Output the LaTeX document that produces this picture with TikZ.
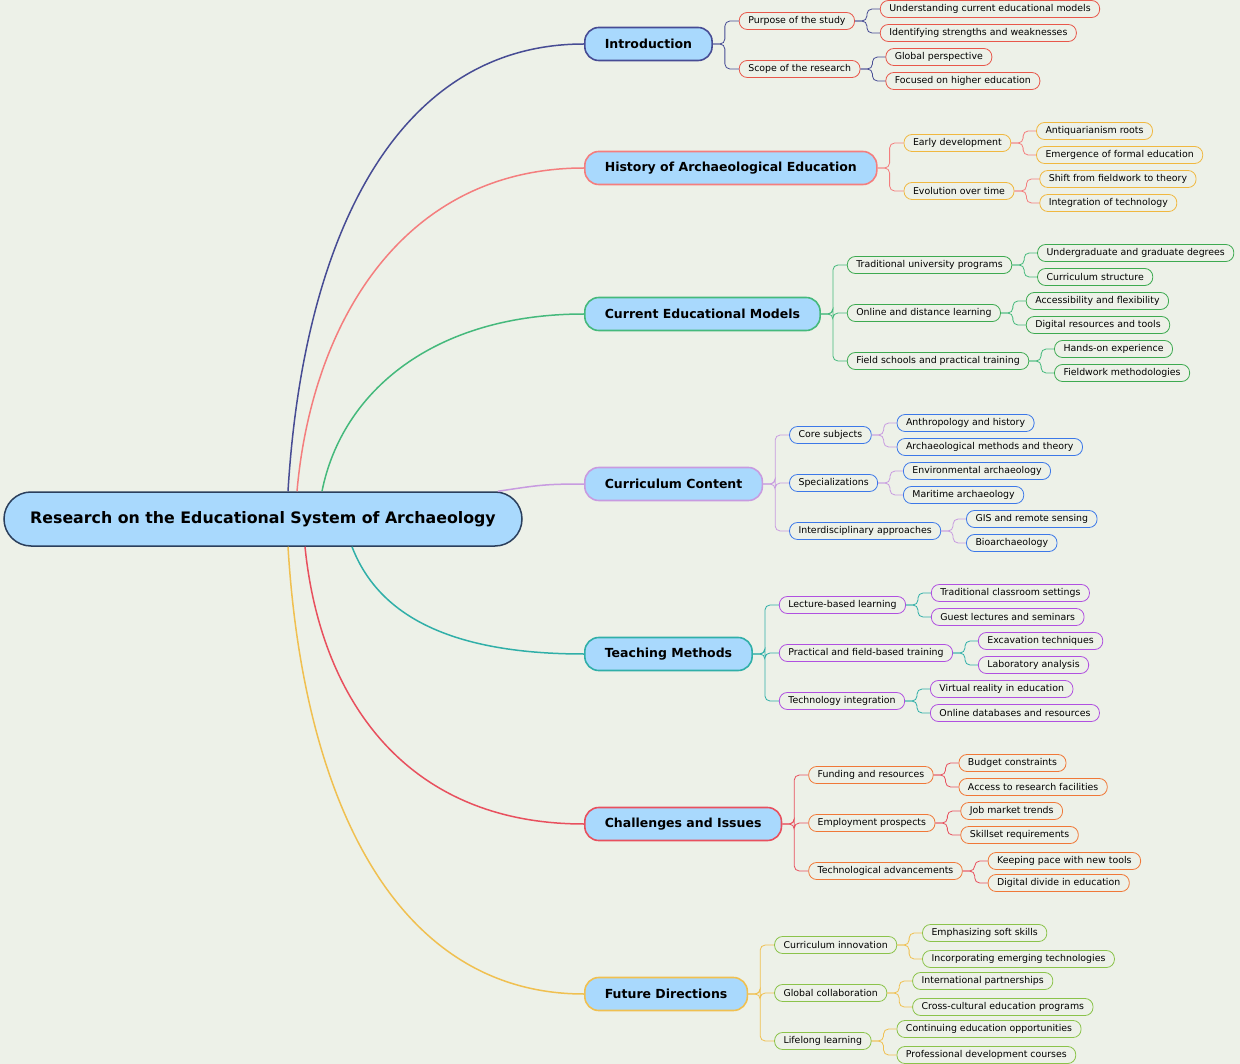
\documentclass[tikz,border=0pt]{standalone}
\usepackage{fontspec}
\setmainfont{DejaVu Sans}
\definecolor{bg}{HTML}{EDF1E8}
\definecolor{nodefill}{HTML}{A9D9FD}
\definecolor{rootb}{HTML}{2B3F5C}
\definecolor{cA}{HTML}{474C94}\definecolor{dA}{HTML}{E8574A}
\definecolor{cB}{HTML}{F47E7E}\definecolor{dB}{HTML}{F0B840}
\definecolor{cC}{HTML}{45B97C}\definecolor{dC}{HTML}{3DAA50}
\definecolor{cD}{HTML}{C89BE0}\definecolor{dD}{HTML}{3C78E8}
\definecolor{cE}{HTML}{30AFA8}\definecolor{dE}{HTML}{B050E0}
\definecolor{cF}{HTML}{E8505E}\definecolor{dF}{HTML}{F07838}
\definecolor{cG}{HTML}{F0C050}\definecolor{dG}{HTML}{8BC34A}
\tikzset{
 root/.style={draw=rootb,fill=nodefill,line width=1.5pt,rounded corners=27pt,minimum width=518pt,minimum height=54pt,font=\fontsize{15.8}{18}\selectfont\bfseries},
 lone/.style={draw=lc,fill=nodefill,line width=1.6pt,rounded corners=14pt,minimum height=33pt,inner xsep=20pt,anchor=west,font=\fontsize{12.5}{14}\selectfont\bfseries},
 ltwo/.style={draw=cc,line width=0.8pt,rounded corners=8pt,minimum height=17pt,inner ysep=0pt,inner xsep=9pt,anchor=west,font=\fontsize{9.4}{11}\selectfont},
 curve/.style={draw=lc,line width=1.5pt},
 conn/.style={draw=lc,line width=0.8pt,rounded corners=5pt},
}
\newcommand\Ltwo[4]{\node[ltwo,xshift=26pt] (#1) at (#2.east |- 0,#3) {#4};
 \draw[conn] (#2.east) -- ++(12pt,0) |- (#1.west);}
\newcommand\Lthree[4]{\node[ltwo,xshift=25pt] (#1) at (#2.east |- 0,#3) {#4};
 \draw[conn] (#2.east) -- ++(12pt,0) |- (#1.west);}
\begin{document}
\begin{tikzpicture}[x=1pt,y=-1pt]
\fill[bg] (0,0) rectangle (1240,1064);
\useasboundingbox (0,0) rectangle (1240,1064);
\node[root] (root) at (263,519) {Research on the Educational System of Archaeology};
% Intro
\begin{scope}\colorlet{lc}{cA}\colorlet{cc}{dA}
\node[lone] (A) at (584,44) {Introduction};
\draw[curve] (root.north -| 288,0) .. controls +(15,-250) and +(-190,0) .. (A.west);
\Ltwo{A1}{A}{21}{Purpose of the study}
\Lthree{A11}{A1}{9}{Understanding current educational models}
\Lthree{A12}{A1}{33}{Identifying strengths and weaknesses}
\Ltwo{A2}{A}{69}{Scope of the research}
\Lthree{A21}{A2}{57}{Global perspective}
\Lthree{A22}{A2}{81}{Focused on higher education}
\end{scope}
% History
\begin{scope}\colorlet{lc}{cB}\colorlet{cc}{dB}
\node[lone] (B) at (584,168) {History of Archaeological Education};
\draw[curve] (root.north -| 297,0) .. controls +(15,-170) and +(-180,0) .. (B.west);
\Ltwo{B1}{B}{143}{Early development}
\Lthree{B11}{B1}{131}{Antiquarianism roots}
\Lthree{B12}{B1}{155}{Emergence of formal education}
\Ltwo{B2}{B}{191}{Evolution over time}
\Lthree{B21}{B2}{179}{Shift from fieldwork to theory}
\Lthree{B22}{B2}{203}{Integration of technology}
\end{scope}
% Current
\begin{scope}\colorlet{lc}{cC}\colorlet{cc}{dC}
\node[lone] (C) at (584,314) {Current Educational Models};
\draw[curve] (root.north -| 322,0) .. controls +(20,-100) and +(-150,0) .. (C.west);
\Ltwo{C1}{C}{265}{Traditional university programs}
\Lthree{C11}{C1}{253}{Undergraduate and graduate degrees}
\Lthree{C12}{C1}{277}{Curriculum structure}
\Ltwo{C2}{C}{313}{Online and distance learning}
\Lthree{C21}{C2}{301}{Accessibility and flexibility}
\Lthree{C22}{C2}{325}{Digital resources and tools}
\Ltwo{C3}{C}{361}{Field schools and practical training}
\Lthree{C31}{C3}{349}{Hands-on experience}
\Lthree{C32}{C3}{373}{Fieldwork methodologies}
\end{scope}
% Curriculum
\begin{scope}\colorlet{lc}{cD}\colorlet{cc}{dD}
\node[lone] (D) at (584,484) {Curriculum Content};
\draw[curve] (root.north -| 498,0) .. controls +(40,-6) and +(-40,0) .. (D.west);
\Ltwo{D1}{D}{435}{Core subjects}
\Lthree{D11}{D1}{423}{Anthropology and history}
\Lthree{D12}{D1}{447}{Archaeological methods and theory}
\Ltwo{D2}{D}{483}{Specializations}
\Lthree{D21}{D2}{471}{Environmental archaeology}
\Lthree{D22}{D2}{495}{Maritime archaeology}
\Ltwo{D3}{D}{531}{Interdisciplinary approaches}
\Lthree{D31}{D3}{519}{GIS and remote sensing}
\Lthree{D32}{D3}{543}{Bioarchaeology}
\end{scope}
% Teaching
\begin{scope}\colorlet{lc}{cE}\colorlet{cc}{dE}
\node[lone] (E) at (584,654) {Teaching Methods};
\draw[curve] (root.south -| 352,0) .. controls +(25,65) and +(-140,0) .. (E.west);
\Ltwo{E1}{E}{605}{Lecture-based learning}
\Lthree{E11}{E1}{593}{Traditional classroom settings}
\Lthree{E12}{E1}{617}{Guest lectures and seminars}
\Ltwo{E2}{E}{653}{Practical and field-based training}
\Lthree{E21}{E2}{641}{Excavation techniques}
\Lthree{E22}{E2}{665}{Laboratory analysis}
\Ltwo{E3}{E}{701}{Technology integration}
\Lthree{E31}{E3}{689}{Virtual reality in education}
\Lthree{E32}{E3}{713}{Online databases and resources}
\end{scope}
% Challenges
\begin{scope}\colorlet{lc}{cF}\colorlet{cc}{dF}
\node[lone] (F) at (584,824) {Challenges and Issues};
\draw[curve] (root.south -| 305,0) .. controls +(15,150) and +(-180,0) .. (F.west);
\Ltwo{F1}{F}{775}{Funding and resources}
\Lthree{F11}{F1}{763}{Budget constraints}
\Lthree{F12}{F1}{787}{Access to research facilities}
\Ltwo{F2}{F}{823}{Employment prospects}
\Lthree{F21}{F2}{811}{Job market trends}
\Lthree{F22}{F2}{835}{Skillset requirements}
\Ltwo{F3}{F}{871}{Technological advancements}
\Lthree{F31}{F3}{861}{Keeping pace with new tools}
\Lthree{F32}{F3}{883}{Digital divide in education}
\end{scope}
% Future
\begin{scope}\colorlet{lc}{cG}\colorlet{cc}{dG}
\node[lone] (G) at (584,994) {Future Directions};
\draw[curve] (root.south -| 288,0) .. controls +(15,250) and +(-190,0) .. (G.west);
\Ltwo{G1}{G}{945}{Curriculum innovation}
\Lthree{G11}{G1}{933}{Emphasizing soft skills}
\Lthree{G12}{G1}{959}{Incorporating emerging technologies}
\Ltwo{G2}{G}{993}{Global collaboration}
\Lthree{G21}{G2}{981}{International partnerships}
\Lthree{G22}{G2}{1007}{Cross-cultural education programs}
\Ltwo{G3}{G}{1041}{Lifelong learning}
\Lthree{G31}{G3}{1029}{Continuing education opportunities}
\Lthree{G32}{G3}{1055}{Professional development courses}
\end{scope}
\end{tikzpicture}
\end{document}
